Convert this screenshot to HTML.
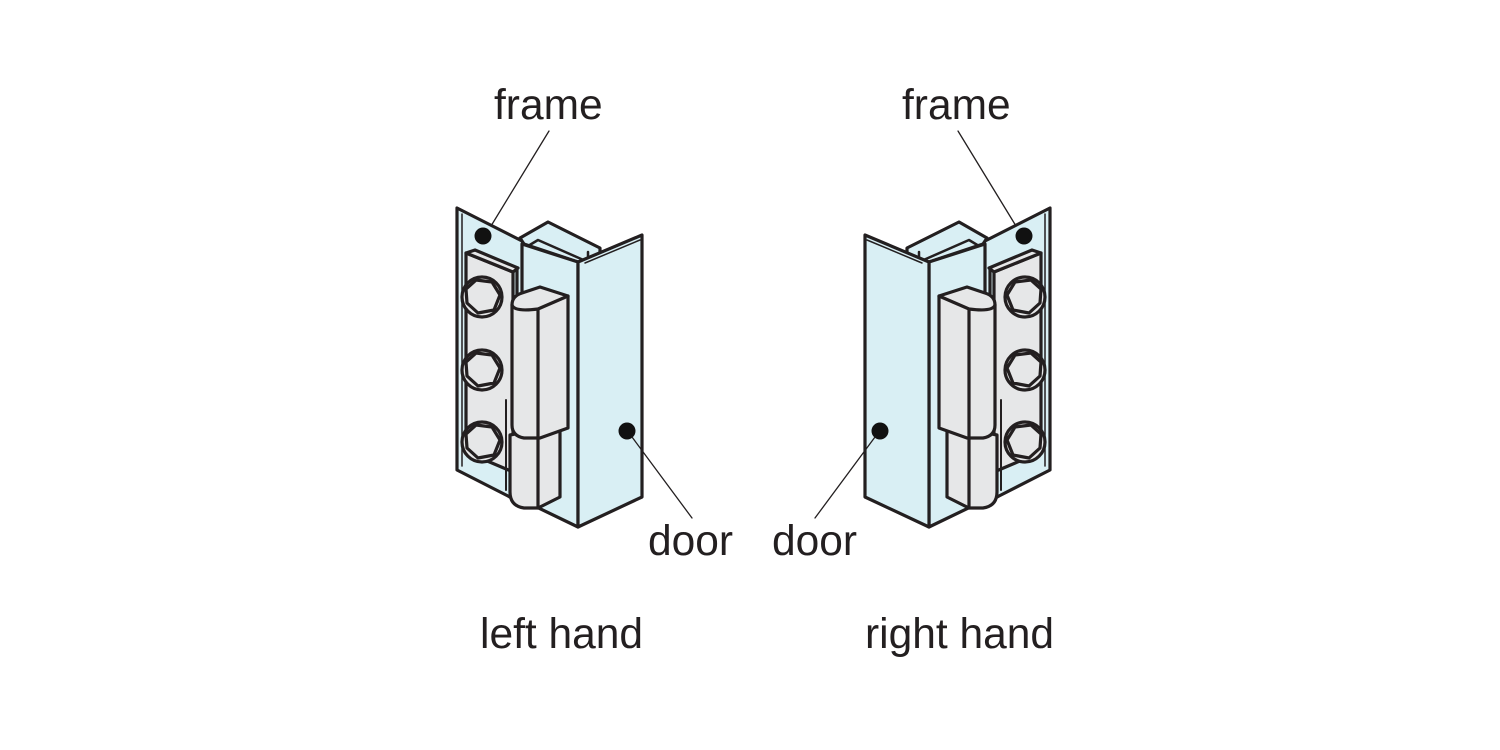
<!DOCTYPE html>
<html><head><meta charset="utf-8"><style>
html,body{margin:0;padding:0;background:#fff;width:1500px;height:750px;overflow:hidden}
svg{display:block}
text{font-family:"Liberation Sans",Arial,sans-serif;fill:#231f20;font-size:42.5px}
</style></head><body>
<svg width="1500" height="750" viewBox="0 0 1500 750" xmlns="http://www.w3.org/2000/svg">
<defs>
<g id="bolt">
  <circle cx="0" cy="0" r="20"/>
  <polygon points="-6,-17 10,-15 18,-2 12,13 -4,16 -15,6 -16,-8"/>
</g>
<g id="hinge" stroke="#231f20" stroke-width="3.2" stroke-linejoin="round" stroke-linecap="round">
  <polygon points="457,208 524,242 524,505 508,496 457,470" fill="#d9eff4"/>
  <line x1="462" y1="214" x2="462" y2="466" stroke-width="1.5"/>
  <polygon points="520,238 548,222 600,248 600,256 578,262 524,244" fill="#d9eff4"/>
  <polyline points="528,246 538,240 588,262" fill="none" stroke-width="2.5"/>
  <line x1="588" y1="252" x2="588" y2="262" stroke-width="2.5"/>
  <polygon points="522,244 578,262 578,527 522,500" fill="#d9eff4"/>
  <polygon points="578,262 642,235 642,497 578,527" fill="#d9eff4"/>
  <line x1="585" y1="263" x2="640" y2="240" stroke-width="1.5"/>
  <polygon points="466,253 513,272 513,472 466,452" fill="#e6e7e8"/>
  <polygon points="466,253 475,250 518,268 513,272" fill="#e6e7e8"/>
  <line x1="517" y1="268" x2="517" y2="470"/>
  <g fill="#e6e7e8">
    <use href="#bolt" x="482" y="297"/>
    <use href="#bolt" x="482" y="370"/>
    <use href="#bolt" x="482" y="442"/>
  </g>
  <line x1="506" y1="400" x2="506" y2="490" stroke-width="2"/>
  <path d="M510,435 L560,425 L560,497 L538,508 L524,508 Q510,506 510,492 Z" fill="#e6e7e8"/>
  <line x1="538" y1="438" x2="538" y2="508"/>
  <path d="M512,305 Q512,296 522,293 L540,287 L568,296 L568,428 L540,438 L524,438 Q512,436 512,425 Z" fill="#e6e7e8"/>
  <path d="M512,305 Q514,312 538,309 L568,296" fill="none"/>
  <line x1="538" y1="309" x2="538" y2="438"/>
  <circle cx="483" cy="236" r="8.5" fill="#111" stroke="none"/>
  <circle cx="627" cy="431" r="8.5" fill="#111" stroke="none"/>
  <line x1="549" y1="131" x2="491" y2="226" stroke-width="1.3"/>
  <line x1="632" y1="437" x2="692" y2="518" stroke-width="1.3"/>
</g>
</defs>
<use href="#hinge"/>
<use href="#hinge" transform="translate(1507,0) scale(-1,1)"/>
<text x="494" y="119">frame</text>
<text x="902" y="119">frame</text>
<text x="648" y="555">door</text>
<text x="772" y="555">door</text>
<text x="480" y="648">left hand</text>
<text x="865" y="648">right hand</text>
</svg>
</body></html>
